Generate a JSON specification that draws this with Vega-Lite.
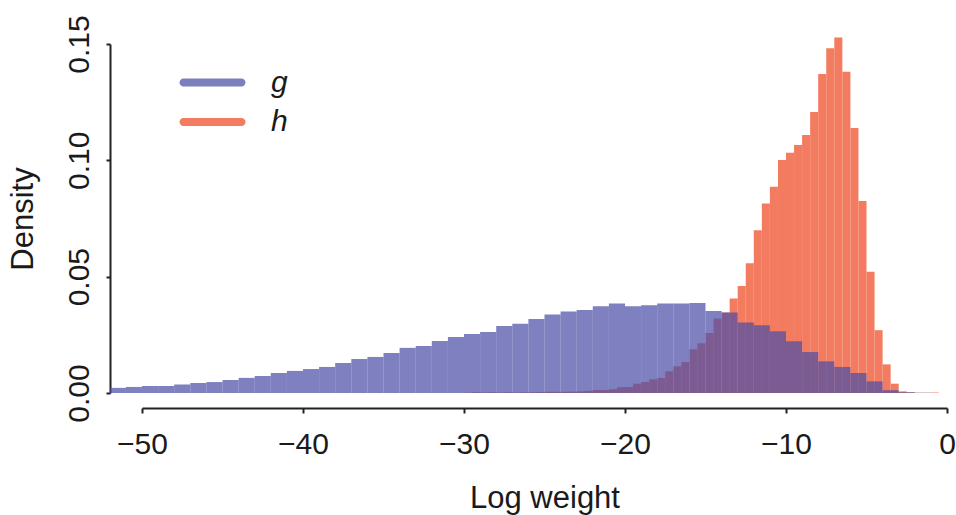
{
  "$schema": "https://vega.github.io/schema/vega-lite/v6.json",
  "width": 805,
  "height": 349,
  "autosize": "none",
  "padding": {"left": 142, "top": 44, "right": 9, "bottom": 122},
  "background": "white",
  "config": {
    "view": {"stroke": null},
    "font": "Liberation Sans",
    "axis": {"grid": false, "labelFlush": false, "domainColor": "#222222", "domainWidth": 2, "tickColor": "#222222", "tickWidth": 2, "labelColor": "#1a1a1a", "titleColor": "#1a1a1a", "labelFont": "Liberation Sans", "titleFont": "Liberation Sans", "titleFontWeight": "normal", "labelFontSize": 30, "titleFontSize": 31}
  },
  "data": {
    "values": [
      {"series": "g", "start": -52, "end": -51, "density": 0.0022},
      {"series": "g", "start": -51, "end": -50, "density": 0.0026},
      {"series": "g", "start": -50, "end": -49, "density": 0.0030},
      {"series": "g", "start": -49, "end": -48, "density": 0.0030},
      {"series": "g", "start": -48, "end": -47, "density": 0.0037},
      {"series": "g", "start": -47, "end": -46, "density": 0.0043},
      {"series": "g", "start": -46, "end": -45, "density": 0.0047},
      {"series": "g", "start": -45, "end": -44, "density": 0.0056},
      {"series": "g", "start": -44, "end": -43, "density": 0.0065},
      {"series": "g", "start": -43, "end": -42, "density": 0.0073},
      {"series": "g", "start": -42, "end": -41, "density": 0.0086},
      {"series": "g", "start": -41, "end": -40, "density": 0.0095},
      {"series": "g", "start": -40, "end": -39, "density": 0.0103},
      {"series": "g", "start": -39, "end": -38, "density": 0.0112},
      {"series": "g", "start": -38, "end": -37, "density": 0.0129},
      {"series": "g", "start": -37, "end": -36, "density": 0.0146},
      {"series": "g", "start": -36, "end": -35, "density": 0.0155},
      {"series": "g", "start": -35, "end": -34, "density": 0.0172},
      {"series": "g", "start": -34, "end": -33, "density": 0.0194},
      {"series": "g", "start": -33, "end": -32, "density": 0.0202},
      {"series": "g", "start": -32, "end": -31, "density": 0.0224},
      {"series": "g", "start": -31, "end": -30, "density": 0.0241},
      {"series": "g", "start": -30, "end": -29, "density": 0.0254},
      {"series": "g", "start": -29, "end": -28, "density": 0.0262},
      {"series": "g", "start": -28, "end": -27, "density": 0.0288},
      {"series": "g", "start": -27, "end": -26, "density": 0.0298},
      {"series": "g", "start": -26, "end": -25, "density": 0.0318},
      {"series": "g", "start": -25, "end": -24, "density": 0.0337},
      {"series": "g", "start": -24, "end": -23, "density": 0.0350},
      {"series": "g", "start": -23, "end": -22, "density": 0.0357},
      {"series": "g", "start": -22, "end": -21, "density": 0.0373},
      {"series": "g", "start": -21, "end": -20, "density": 0.0385},
      {"series": "g", "start": -20, "end": -19, "density": 0.0373},
      {"series": "g", "start": -19, "end": -18, "density": 0.0377},
      {"series": "g", "start": -18, "end": -17, "density": 0.0385},
      {"series": "g", "start": -17, "end": -16, "density": 0.0385},
      {"series": "g", "start": -16, "end": -15, "density": 0.0387},
      {"series": "g", "start": -15, "end": -14, "density": 0.0352},
      {"series": "g", "start": -14, "end": -13, "density": 0.0346},
      {"series": "g", "start": -13, "end": -12, "density": 0.0303},
      {"series": "g", "start": -12, "end": -11, "density": 0.0291},
      {"series": "g", "start": -11, "end": -10, "density": 0.0265},
      {"series": "g", "start": -10, "end": -9, "density": 0.0222},
      {"series": "g", "start": -9, "end": -8, "density": 0.0176},
      {"series": "g", "start": -8, "end": -7, "density": 0.0136},
      {"series": "g", "start": -7, "end": -6, "density": 0.0112},
      {"series": "g", "start": -6, "end": -5, "density": 0.0086},
      {"series": "g", "start": -5, "end": -4, "density": 0.0050},
      {"series": "g", "start": -4, "end": -3, "density": 0.0012},
      {"series": "g", "start": -3, "end": -2, "density": 0.0003},
      {"series": "g", "start": -2, "end": -1, "density": 0.0001},
      {"series": "h", "start": -30, "end": -29.5, "density": 0.0001},
      {"series": "h", "start": -29.5, "end": -29, "density": 0.0003},
      {"series": "h", "start": -29, "end": -28.5, "density": 0.0002},
      {"series": "h", "start": -28.5, "end": -28, "density": 0.0003},
      {"series": "h", "start": -28, "end": -27.5, "density": 0.0002},
      {"series": "h", "start": -27.5, "end": -27, "density": 0.0003},
      {"series": "h", "start": -27, "end": -26.5, "density": 0.0002},
      {"series": "h", "start": -26.5, "end": -26, "density": 0.0003},
      {"series": "h", "start": -26, "end": -25.5, "density": 0.0003},
      {"series": "h", "start": -25.5, "end": -25, "density": 0.0004},
      {"series": "h", "start": -25, "end": -24.5, "density": 0.0005},
      {"series": "h", "start": -24.5, "end": -24, "density": 0.0005},
      {"series": "h", "start": -24, "end": -23.5, "density": 0.0005},
      {"series": "h", "start": -23.5, "end": -23, "density": 0.0006},
      {"series": "h", "start": -23, "end": -22.5, "density": 0.0007},
      {"series": "h", "start": -22.5, "end": -22, "density": 0.0009},
      {"series": "h", "start": -22, "end": -21.5, "density": 0.0013},
      {"series": "h", "start": -21.5, "end": -21, "density": 0.0013},
      {"series": "h", "start": -21, "end": -20.5, "density": 0.0016},
      {"series": "h", "start": -20.5, "end": -20, "density": 0.0025},
      {"series": "h", "start": -20, "end": -19.5, "density": 0.0026},
      {"series": "h", "start": -19.5, "end": -19, "density": 0.0040},
      {"series": "h", "start": -19, "end": -18.5, "density": 0.0047},
      {"series": "h", "start": -18.5, "end": -18, "density": 0.0059},
      {"series": "h", "start": -18, "end": -17.5, "density": 0.0065},
      {"series": "h", "start": -17.5, "end": -17, "density": 0.0093},
      {"series": "h", "start": -17, "end": -16.5, "density": 0.0115},
      {"series": "h", "start": -16.5, "end": -16, "density": 0.0133},
      {"series": "h", "start": -16, "end": -15.5, "density": 0.0188},
      {"series": "h", "start": -15.5, "end": -15, "density": 0.0214},
      {"series": "h", "start": -15, "end": -14.5, "density": 0.0258},
      {"series": "h", "start": -14.5, "end": -14, "density": 0.0320},
      {"series": "h", "start": -14, "end": -13.5, "density": 0.0346},
      {"series": "h", "start": -13.5, "end": -13, "density": 0.0406},
      {"series": "h", "start": -13, "end": -12.5, "density": 0.0460},
      {"series": "h", "start": -12.5, "end": -12, "density": 0.0558},
      {"series": "h", "start": -12, "end": -11.5, "density": 0.0700},
      {"series": "h", "start": -11.5, "end": -11, "density": 0.0815},
      {"series": "h", "start": -11, "end": -10.5, "density": 0.0886},
      {"series": "h", "start": -10.5, "end": -10, "density": 0.1001},
      {"series": "h", "start": -10, "end": -9.5, "density": 0.1033},
      {"series": "h", "start": -9.5, "end": -9, "density": 0.1066},
      {"series": "h", "start": -9, "end": -8.5, "density": 0.1109},
      {"series": "h", "start": -8.5, "end": -8, "density": 0.1208},
      {"series": "h", "start": -8, "end": -7.5, "density": 0.1371},
      {"series": "h", "start": -7.5, "end": -7, "density": 0.1482},
      {"series": "h", "start": -7, "end": -6.5, "density": 0.1528},
      {"series": "h", "start": -6.5, "end": -6, "density": 0.1381},
      {"series": "h", "start": -6, "end": -5.5, "density": 0.1139},
      {"series": "h", "start": -5.5, "end": -5, "density": 0.0825},
      {"series": "h", "start": -5, "end": -4.5, "density": 0.0521},
      {"series": "h", "start": -4.5, "end": -4, "density": 0.0270},
      {"series": "h", "start": -4, "end": -3.5, "density": 0.0123},
      {"series": "h", "start": -3.5, "end": -3, "density": 0.0040},
      {"series": "h", "start": -3, "end": -2.5, "density": 0.0007},
      {"series": "h", "start": -2.5, "end": -2, "density": 0.0003},
      {"series": "h", "start": -2, "end": -1.5, "density": 0.0001},
      {"series": "h", "start": -1.5, "end": -1, "density": 0.0001},
      {"series": "h", "start": -1, "end": -0.5, "density": 0.0002}
    ]
  },
  "encoding": {
    "x": {
      "field": "start", "type": "quantitative",
      "scale": {"domain": [-50, 0], "nice": false, "zero": false},
      "axis": {"values": [-50, -40, -30, -20, -10, 0], "format": "d", "title": "Log weight", "offset": 15, "tickSize": 5, "labelPadding": 16, "titlePadding": 24}
    },
    "x2": {"field": "end"},
    "y": {
      "field": "density", "type": "quantitative",
      "scale": {"domain": [0, 0.15], "nice": false},
      "axis": {"values": [0, 0.05, 0.1, 0.15], "format": ".2f", "title": "Density", "offset": 32, "tickSize": 4, "labelAngle": -90, "labelAlign": "center", "labelBaseline": "alphabetic", "labelPadding": 18, "titlePadding": 25}
    },
    "y2": {"datum": 0}
  },
  "layer": [
    {
      "transform": [{"filter": "datum.series === 'h'"}],
      "mark": {"type": "bar", "opacity": 1},
      "encoding": {
        "color": {
          "field": "series", "type": "nominal",
          "scale": {"domain": ["g", "h"], "range": ["#7a7fbd", "#f37b5f"]},
          "legend": {
            "title": null, "orient": "none", "legendX": 54, "legendY": 22,
            "symbolType": "M-1.758,-0.242H1.758A0.242,0.242 0 0 1 1.758,0.242H-1.758A0.242,0.242 0 0 1 -1.758,-0.242Z",
            "symbolSize": 1089, "symbolStrokeWidth": 0, "symbolOpacity": 1,
            "labelFontSize": 30, "labelFontStyle": "italic", "labelFont": "Liberation Sans", "labelColor": "#1a1a1a",
            "labelOffset": 42, "rowPadding": 7.5
          }
        }
      }
    },
    {
      "transform": [{"filter": "datum.series === 'g'"}],
      "mark": {"type": "bar", "color": "#4c4fa6", "opacity": 0.72}
    }
  ]
}
